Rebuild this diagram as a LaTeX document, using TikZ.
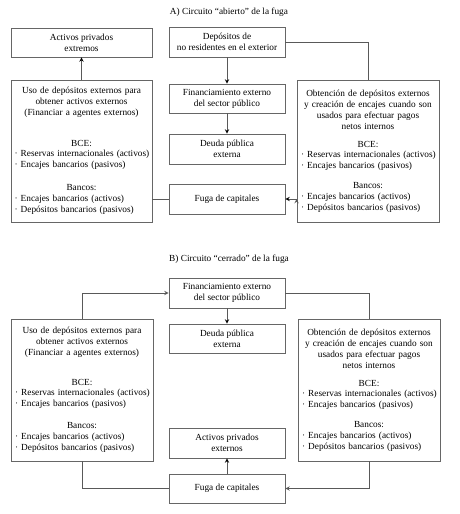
\documentclass[tikz,border=0pt]{standalone}
\usepackage{fontspec}
\setmainfont{Liberation Serif}
\usepackage{tikz}
\usetikzlibrary{arrows.meta, arrows, calc}

\newcommand{\itm}[1]{\makebox[\hsize][l]{· #1}}
\newcommand{\letra}{\fontsize{9.3}{11}\selectfont\lineskiplimit=-5pt\relax}

\tikzset{
  caja/.style={draw=black!60, line width=0.9pt, align=center,
    minimum width=116pt, minimum height=30pt, inner sep=0pt,
    font=\letra},
  grande/.style={caja, minimum width=142pt, minimum height=142pt,
    text width=134pt},
  titulo/.style={font=\letra},
  linea/.style={draw=black!65, line width=0.9pt}
}

\begin{document}
\begin{tikzpicture}[x=1pt, y=-1pt]
  \useasboundingbox (0,0) rectangle (459,514);

  % A) circuito abierto
  \node[titulo] (titA) at (229,12) {A) Circuito “abierto” de la fuga};
  \node[caja, minimum width=141pt, minimum height=29pt] (actA) at (81.5,42.5)
    {Activos privados\\extremos};
  \node[caja] (depo) at (227,42) {Depósitos de\\no residentes en el exterior};
  \node[caja, minimum height=29pt] (finA) at (227,98.5)
    {Financiamiento externo\\del sector público};
  \node[caja] (deuA) at (227,149) {Deuda pública\\externa};
  \node[caja] (fugA) at (227,199) {Fuga de capitales};
  \node[grande, minimum width=141pt] (usoA) at (81.5,151) {%
    Uso de depósitos externos para\\obtener activos externos\\
    (Financiar a agentes externos)\\[20pt]
    BCE:\\[-1pt]
    \itm{Reservas internacionales (activos)}\\
    \itm{Encajes bancarios (pasivos)}\\[12pt]
    Bancos:\\
    \itm{Encajes bancarios (activos)}\\
    \itm{Depósitos bancarios (pasivos)}};
  \node[grande] (obtA) at (368,151) {%
    Obtención de depósitos externos\\y creación de encajes cuando son\\
    usados para efectuar pagos\\netos internos\\[7pt]
    BCE:\\[-1pt]
    \itm{Reservas internacionales (activos)}\\
    \itm{Encajes bancarios (pasivos)}\\[9pt]
    Bancos:\\
    \itm{Encajes bancarios (activos)}\\
    \itm{Depósitos bancarios (pasivos)}};

  \path[linea, -stealth]
    (usoA) edge (actA)
    (depo) edge (finA)
    (finA) edge (deuA)
    (fugA -| obtA.west) edge (fugA.east);
  \draw[linea] (depo.east) -| (obtA.north);
  \draw[linea] (fugA -| usoA.east) -- (fugA.west);

  % B) circuito cerrado
  \node[titulo] (titB) at (229,259) {B) Circuito “cerrado” de la fuga};
  \node[caja] (finB) at (227,293) {Financiamiento externo\\del sector público};
  \node[caja, minimum height=29pt] (deuB) at (227,338.5) {Deuda pública\\externa};
  \node[caja] (actB) at (227,443) {Activos privados\\externos};
  \node[caja, minimum height=29pt] (fugB) at (227,488.5) {Fuga de capitales};
  \node[grande] (usoB) at (82,390) {%
    Uso de depósitos externos para\\obtener activos externos\\
    (Financiar a agentes externos)\\[19pt]
    BCE:\\[-1pt]
    \itm{Reservas internacionales (activos)}\\
    \itm{Encajes bancarios (pasivos)}\\[11pt]
    Bancos:\\
    \itm{Encajes bancarios (activos)}\\
    \itm{Depósitos bancarios (pasivos)}};
  \node[grande] (obtB) at (369,390) {%
    Obtención de depósitos externos\\y creación de encajes cuando son\\
    usados para efectuar pagos\\netos internos\\[7pt]
    BCE:\\[-1pt]
    \itm{Reservas internacionales (activos)}\\
    \itm{Encajes bancarios (pasivos)}\\[9pt]
    Bancos:\\
    \itm{Encajes bancarios (activos)}\\
    \itm{Depósitos bancarios (pasivos)}};

  \path[linea, -stealth]
    (finB) edge (deuB)
    (fugB) edge (actB);
  \draw[linea, -stealth] (usoB.north) |- (finB.west);
  \draw[linea] (finB.east) -| (obtB.north);
  \draw[linea] (usoB.south) |- (fugB.west);
  \draw[linea, -stealth] (obtB.south) |- (fugB.east);
\end{tikzpicture}
\end{document}
